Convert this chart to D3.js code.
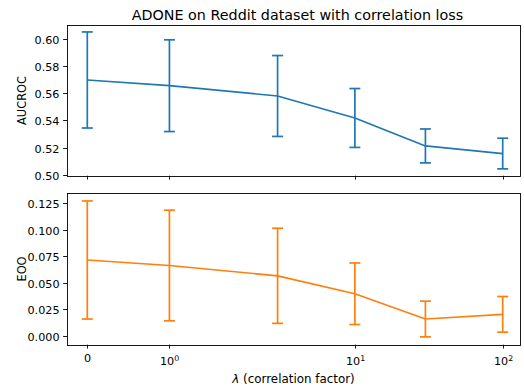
<!DOCTYPE html>
<html>
<head>
<meta charset="utf-8">
<script src="https://cdn.jsdelivr.net/npm/d3@7"></script>
<style>
  html, body { margin: 0; padding: 0; background: #fff; }
  svg { display: block; font-family: "DejaVu Sans", sans-serif; }
</style>
</head>
<body>
<svg id="chart" width="524" height="387"></svg>
<script>
// Correlation factor values (x) and results per metric: mean and std across runs
const lambdas = [0, 1, 3, 10, 30, 100];
const aucMean = [0.5698, 0.5656, 0.5580, 0.5418, 0.5212, 0.5156];
const aucStd  = [0.0354, 0.0338, 0.0298, 0.0217, 0.0125, 0.0113];
const eooMean = [0.0716, 0.0664, 0.0567, 0.0398, 0.0160, 0.0204];
const eooStd  = [0.0556, 0.0521, 0.0448, 0.0290, 0.0168, 0.0168];

const xTickValues = [0, 1, 10, 100];
const xTickExp = [null, "0", "1", "2"];
const aucTicks = [0.50, 0.52, 0.54, 0.56, 0.58, 0.60];
const eooTicks = [0.000, 0.025, 0.050, 0.075, 0.100, 0.125];

const title = "ADONE on Reddit dataset with correlation loss";
const colors = { auc: "#1f77b4", eoo: "#ff7f0e" };

const svg = d3.select("#chart");

// Symmetric log transform (linear below linthresh = 2, base 10)
const linthresh = 2, linscaleAdj = 1 / (1 - 1 / 10);
function symlog(v) {
  const a = Math.abs(v);
  if (a <= linthresh) return v * linscaleAdj;
  return Math.sign(v) * linthresh * (linscaleAdj + Math.log10(a / linthresh));
}

const left = 67, right = 520;
const xLin = d3.scaleLinear()
  .domain([symlog(0), symlog(100)])
  .range([87.3, 502.7]);
const x = v => xLin(symlog(v));

const panels = [
  { top: 25.3, bottom: 175.7, mean: aucMean, std: aucStd, color: colors.auc,
    ticks: aucTicks, fmt: d3.format(".2f"), label: "AUCROC",
    domain: [0.50, 0.60], range: [174.7, 39], showX: false },
  { top: 193.3, bottom: 344.7, mean: eooMean, std: eooStd, color: colors.eoo,
    ticks: eooTicks, fmt: d3.format(".3f"), label: "EOO",
    domain: [0, 0.125], range: [336, 203.3], showX: true }
];

panels.forEach(p => {
  const y = d3.scaleLinear().domain(p.domain).range(p.range);
  const g = svg.append("g");

  // y axis ticks and labels
  p.ticks.forEach(t => {
    const py = Math.round(y(t)) + 0.5;
    g.append("line").attr("x1", left - 3.9).attr("x2", left)
      .attr("y1", py).attr("y2", py).attr("stroke", "#000").attr("stroke-width", 0.9);
    g.append("text").attr("x", left - 7.5).attr("y", py)
      .attr("dy", "0.36em").attr("text-anchor", "end")
      .attr("font-size", 11.2).attr("fill", "#000").text(p.fmt(t));
  });

  // x axis ticks
  xTickValues.forEach((v, i) => {
    const px = Math.round(x(v)) + 0.5;
    g.append("line").attr("x1", px).attr("x2", px)
      .attr("y1", p.bottom).attr("y2", p.bottom + 3.9)
      .attr("stroke", "#000").attr("stroke-width", 0.9);
    if (p.showX) {
      const t = g.append("text").attr("x", px).attr("text-anchor", "middle")
        .attr("font-size", 11.2).attr("fill", "#000");
      if (xTickExp[i] === null) {
        t.attr("y", p.bottom + 17.5).text(String(v));
      } else {
        t.attr("y", p.bottom + 20.5);
        t.append("tspan").text("10");
        t.append("tspan").attr("dy", -4.5).attr("font-size", 7.8).text(xTickExp[i]);
      }
    }
  });

  // y axis label
  g.append("text")
    .attr("transform", `translate(${25.5},${(p.top + p.bottom) / 2}) rotate(-90)`)
    .attr("text-anchor", "middle").attr("font-size", 11.4).attr("fill", "#000")
    .text(p.label);

  // mean line
  const line = d3.line().x((d, i) => x(lambdas[i])).y(d => y(d));
  g.append("path").datum(p.mean).attr("d", line)
    .attr("fill", "none").attr("stroke", p.color).attr("stroke-width", 1.7)
    .attr("stroke-linejoin", "round");

  // error bars with caps
  const cap = 5.5;
  lambdas.forEach((v, i) => {
    const px = x(v);
    const hi = y(p.mean[i] + p.std[i]), lo = y(p.mean[i] - p.std[i]);
    g.append("line").attr("x1", px).attr("x2", px).attr("y1", hi).attr("y2", lo)
      .attr("stroke", p.color).attr("stroke-width", 1.7);
    [hi, lo].forEach(cy => {
      g.append("line").attr("x1", px - cap).attr("x2", px + cap)
        .attr("y1", cy).attr("y2", cy)
        .attr("stroke", p.color).attr("stroke-width", 1.7);
    });
  });

  // frame
  g.append("rect").attr("x", left + 0.5).attr("y", Math.round(p.top) + 0.5)
    .attr("width", right - left).attr("height", Math.round(p.bottom) - Math.round(p.top))
    .attr("fill", "none").attr("stroke", "#000").attr("stroke-width", 0.9);
});

// title
svg.append("text").attr("x", (left + right) / 2 + 4).attr("y", 20)
  .attr("text-anchor", "middle").attr("font-size", 14.3).attr("fill", "#000")
  .text(title);

// x axis label
const xl = svg.append("text").attr("x", (left + right) / 2).attr("y", 382.5)
  .attr("text-anchor", "middle").attr("font-size", 11.9).attr("fill", "#000");
xl.append("tspan").attr("font-style", "italic").text("λ");
xl.append("tspan").text(" (correlation factor)");
</script>
</body>
</html>
